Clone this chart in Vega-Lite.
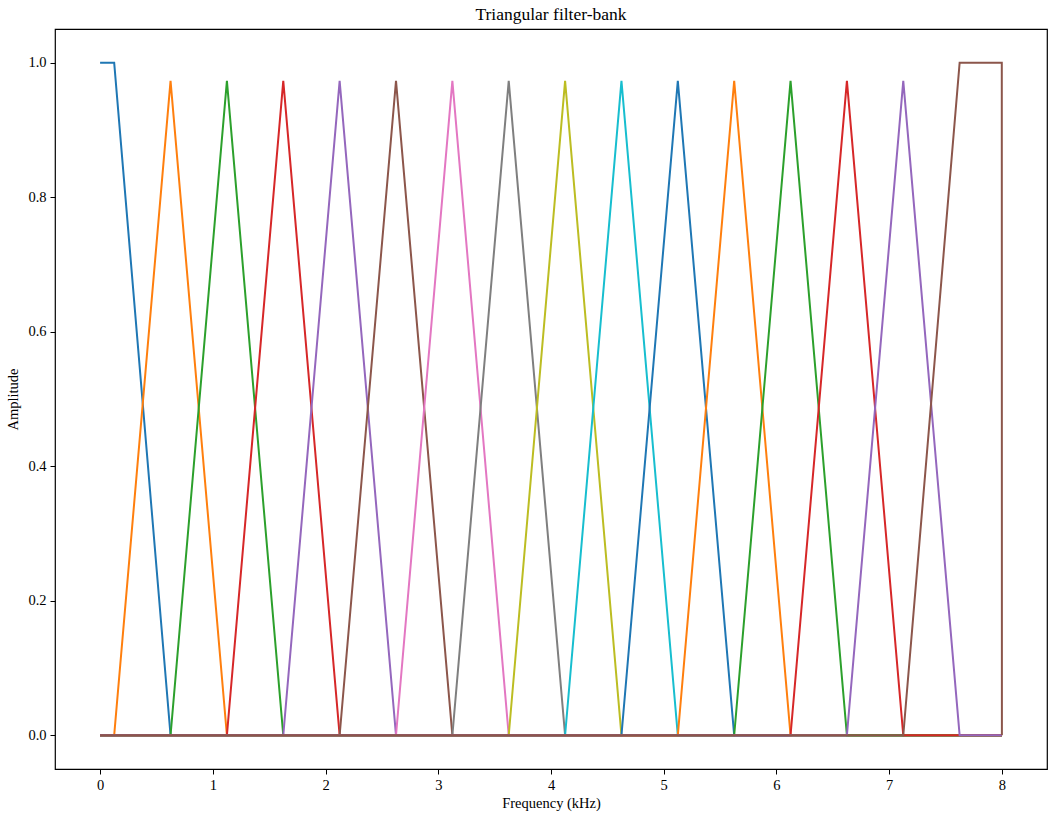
{
  "$schema": "https://vega.github.io/schema/vega-lite/v6.json",
  "autosize": {"type": "none"},
  "padding": {"left": 55, "top": 29, "right": 10, "bottom": 51},
  "width": 992,
  "height": 740,
  "background": "white",
  "title": {"text": "Triangular filter-bank", "fontSize": 17.5, "fontWeight": "normal", "font": "Liberation Serif", "offset": 6},
  "data": {
    "values": [
      {"filter": "f01", "freq": 0, "amp": 1},
      {"filter": "f01", "freq": 0.125, "amp": 1},
      {"filter": "f01", "freq": 0.625, "amp": 0},
      {"filter": "f01", "freq": 8, "amp": 0},
      {"filter": "f02", "freq": 0, "amp": 0},
      {"filter": "f02", "freq": 0.125, "amp": 0},
      {"filter": "f02", "freq": 0.625, "amp": 0.973},
      {"filter": "f02", "freq": 1.125, "amp": 0},
      {"filter": "f02", "freq": 8, "amp": 0},
      {"filter": "f03", "freq": 0, "amp": 0},
      {"filter": "f03", "freq": 0.625, "amp": 0},
      {"filter": "f03", "freq": 1.125, "amp": 0.973},
      {"filter": "f03", "freq": 1.625, "amp": 0},
      {"filter": "f03", "freq": 8, "amp": 0},
      {"filter": "f04", "freq": 0, "amp": 0},
      {"filter": "f04", "freq": 1.125, "amp": 0},
      {"filter": "f04", "freq": 1.625, "amp": 0.973},
      {"filter": "f04", "freq": 2.125, "amp": 0},
      {"filter": "f04", "freq": 8, "amp": 0},
      {"filter": "f05", "freq": 0, "amp": 0},
      {"filter": "f05", "freq": 1.625, "amp": 0},
      {"filter": "f05", "freq": 2.125, "amp": 0.973},
      {"filter": "f05", "freq": 2.625, "amp": 0},
      {"filter": "f05", "freq": 8, "amp": 0},
      {"filter": "f06", "freq": 0, "amp": 0},
      {"filter": "f06", "freq": 2.125, "amp": 0},
      {"filter": "f06", "freq": 2.625, "amp": 0.973},
      {"filter": "f06", "freq": 3.125, "amp": 0},
      {"filter": "f06", "freq": 8, "amp": 0},
      {"filter": "f07", "freq": 0, "amp": 0},
      {"filter": "f07", "freq": 2.625, "amp": 0},
      {"filter": "f07", "freq": 3.125, "amp": 0.973},
      {"filter": "f07", "freq": 3.625, "amp": 0},
      {"filter": "f07", "freq": 8, "amp": 0},
      {"filter": "f08", "freq": 0, "amp": 0},
      {"filter": "f08", "freq": 3.125, "amp": 0},
      {"filter": "f08", "freq": 3.625, "amp": 0.973},
      {"filter": "f08", "freq": 4.125, "amp": 0},
      {"filter": "f08", "freq": 8, "amp": 0},
      {"filter": "f09", "freq": 0, "amp": 0},
      {"filter": "f09", "freq": 3.625, "amp": 0},
      {"filter": "f09", "freq": 4.125, "amp": 0.973},
      {"filter": "f09", "freq": 4.625, "amp": 0},
      {"filter": "f09", "freq": 8, "amp": 0},
      {"filter": "f10", "freq": 0, "amp": 0},
      {"filter": "f10", "freq": 4.125, "amp": 0},
      {"filter": "f10", "freq": 4.625, "amp": 0.973},
      {"filter": "f10", "freq": 5.125, "amp": 0},
      {"filter": "f10", "freq": 8, "amp": 0},
      {"filter": "f11", "freq": 0, "amp": 0},
      {"filter": "f11", "freq": 4.625, "amp": 0},
      {"filter": "f11", "freq": 5.125, "amp": 0.973},
      {"filter": "f11", "freq": 5.625, "amp": 0},
      {"filter": "f11", "freq": 8, "amp": 0},
      {"filter": "f12", "freq": 0, "amp": 0},
      {"filter": "f12", "freq": 5.125, "amp": 0},
      {"filter": "f12", "freq": 5.625, "amp": 0.973},
      {"filter": "f12", "freq": 6.125, "amp": 0},
      {"filter": "f12", "freq": 8, "amp": 0},
      {"filter": "f13", "freq": 0, "amp": 0},
      {"filter": "f13", "freq": 5.625, "amp": 0},
      {"filter": "f13", "freq": 6.125, "amp": 0.973},
      {"filter": "f13", "freq": 6.625, "amp": 0},
      {"filter": "f13", "freq": 8, "amp": 0},
      {"filter": "f14", "freq": 0, "amp": 0},
      {"filter": "f14", "freq": 6.125, "amp": 0},
      {"filter": "f14", "freq": 6.625, "amp": 0.973},
      {"filter": "f14", "freq": 7.125, "amp": 0},
      {"filter": "f14", "freq": 8, "amp": 0},
      {"filter": "f15", "freq": 0, "amp": 0},
      {"filter": "f15", "freq": 6.625, "amp": 0},
      {"filter": "f15", "freq": 7.125, "amp": 0.973},
      {"filter": "f15", "freq": 7.625, "amp": 0},
      {"filter": "f15", "freq": 8, "amp": 0},
      {"filter": "f16", "freq": 0, "amp": 0},
      {"filter": "f16", "freq": 7.125, "amp": 0},
      {"filter": "f16", "freq": 7.625, "amp": 1},
      {"filter": "f16", "freq": 7.999, "amp": 1},
      {"filter": "f16", "freq": 8, "amp": 0}
    ]
  },
  "encoding": {
    "x": {
      "field": "freq",
      "type": "quantitative",
      "scale": {"domain": [-0.4, 8.4], "nice": false, "zero": false},
      "axis": {"title": "Frequency (kHz)", "values": [0, 1, 2, 3, 4, 5, 6, 7, 8], "format": "d"}
    },
    "y": {
      "field": "amp",
      "type": "quantitative",
      "scale": {"domain": [-0.05, 1.05], "nice": false, "zero": false},
      "axis": {"title": "Amplitude", "values": [0, 0.2, 0.4, 0.6, 0.8, 1.0], "format": ".1f"}
    }
  },
  "layer": [
    {"transform": [{"filter": {"field": "filter", "equal": "f01"}}], "mark": {"type": "line", "color": "#1f77b4"}, "encoding": {}},
    {"transform": [{"filter": {"field": "filter", "equal": "f02"}}], "mark": {"type": "line", "color": "#ff7f0e"}, "encoding": {}},
    {"transform": [{"filter": {"field": "filter", "equal": "f03"}}], "mark": {"type": "line", "color": "#2ca02c"}, "encoding": {}},
    {"transform": [{"filter": {"field": "filter", "equal": "f04"}}], "mark": {"type": "line", "color": "#d62728"}, "encoding": {}},
    {"transform": [{"filter": {"field": "filter", "equal": "f05"}}], "mark": {"type": "line", "color": "#9467bd"}, "encoding": {}},
    {"transform": [{"filter": {"field": "filter", "equal": "f06"}}], "mark": {"type": "line", "color": "#8c564b"}, "encoding": {}},
    {"transform": [{"filter": {"field": "filter", "equal": "f07"}}], "mark": {"type": "line", "color": "#e377c2"}, "encoding": {}},
    {"transform": [{"filter": {"field": "filter", "equal": "f08"}}], "mark": {"type": "line", "color": "#7f7f7f"}, "encoding": {}},
    {"transform": [{"filter": {"field": "filter", "equal": "f09"}}], "mark": {"type": "line", "color": "#bcbd22"}, "encoding": {}},
    {"transform": [{"filter": {"field": "filter", "equal": "f10"}}], "mark": {"type": "line", "color": "#17becf"}, "encoding": {}},
    {"transform": [{"filter": {"field": "filter", "equal": "f11"}}], "mark": {"type": "line", "color": "#1f77b4"}, "encoding": {}},
    {"transform": [{"filter": {"field": "filter", "equal": "f12"}}], "mark": {"type": "line", "color": "#ff7f0e"}, "encoding": {}},
    {"transform": [{"filter": {"field": "filter", "equal": "f13"}}], "mark": {"type": "line", "color": "#2ca02c"}, "encoding": {}},
    {"transform": [{"filter": {"field": "filter", "equal": "f14"}}], "mark": {"type": "line", "color": "#d62728"}, "encoding": {}},
    {"transform": [{"filter": {"field": "filter", "equal": "f15"}}], "mark": {"type": "line", "color": "#9467bd"}, "encoding": {}},
    {"transform": [{"filter": {"field": "filter", "equal": "f16"}}], "mark": {"type": "line", "color": "#8c564b"}, "encoding": {}}
  ],
  "config": {
    "view": {"stroke": "black", "strokeWidth": 1.2},
    "line": {"strokeWidth": 2, "clip": true},
    "axis": {
      "grid": false,
      "domain": false,
      "tickColor": "black",
      "tickSize": 5,
      "tickWidth": 1,
      "labelFont": "Liberation Serif",
      "labelFontSize": 14.5,
      "labelColor": "black",
      "labelPadding": 4,
      "titleFont": "Liberation Serif",
      "titleFontSize": 14.5,
      "titleFontWeight": "normal",
      "titleColor": "black"
    },
    "axisX": {"titlePadding": 5},
    "axisY": {"titlePadding": 7}
  }
}
